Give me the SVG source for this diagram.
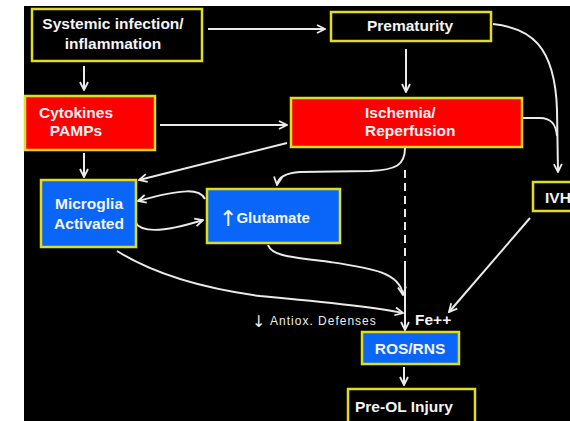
<svg xmlns="http://www.w3.org/2000/svg" width="570" height="421" viewBox="0 0 570 421">
  <style>
    .box { stroke: #E0DC1E; stroke-width: 2.5; }
    .dark { fill: #000000; }
    .red { fill: #FF0000; }
    .blue { fill: #0A66F8; }
    .lbl { font-family: "Liberation Sans", Arial, sans-serif; font-weight: bold; font-size: 15.5px; fill: #F4F4F4; }
    .mid { text-anchor: middle; }
    .small { font-family: "Liberation Sans", Arial, sans-serif; font-size: 12px; fill: #EDEDED; letter-spacing: 1px; }
    .link { fill: none; stroke: #EAEAEA; stroke-width: 2; }
    .dash { stroke-dasharray: 8 5; }
  </style>
  <defs>
    <marker id="arrow" viewBox="0 0 10 10" refX="9" refY="5" markerWidth="10" markerHeight="10" markerUnits="userSpaceOnUse" orient="auto">
      <path d="M1,1 L9,5 L1,9" fill="none" stroke="#EAEAEA" stroke-width="1.8"/>
    </marker>
  </defs>

  <!-- page background -->
  <rect x="0" y="0" width="570" height="421" fill="#FFFFFF"/>
  <rect x="24" y="6" width="546" height="415" fill="#000000"/>

  <!-- connectors -->
  <g id="connectors">
    <path class="link" d="M84,66 L84,90" marker-end="url(#arrow)"/>
    <path class="link" d="M208,29 L325,29" marker-end="url(#arrow)"/>
    <path class="link" d="M406,49 L406,92" marker-end="url(#arrow)"/>
    <path class="link" d="M160,125 L287,125" marker-end="url(#arrow)"/>
    <path class="link" d="M84,153 L84,177" marker-end="url(#arrow)"/>
    <path class="link" d="M287,143 L139,180" marker-end="url(#arrow)"/>
    <path class="link" d="M205,199 C200,189 185,188 138,201" marker-end="url(#arrow)"/>
    <path class="link" d="M135,222 C141,233 165,232 203,220" marker-end="url(#arrow)"/>
    <path class="link" d="M405,148 C405,165 396,170 370,171 L300,172 C285,173 278,177 277,185" marker-end="url(#arrow)"/>
    <path class="link dash" d="M405,170 L405,268"/>
    <path class="link" d="M405,268 L405,330" marker-end="url(#arrow)"/>
    <path class="link" d="M268,245 C272,256 290,257 330,262 C370,268 400,272 403,295" marker-end="url(#arrow)"/>
    <path class="link" d="M117,251 Q170,284 260,296 Q370,306 403,313" marker-end="url(#arrow)"/>
    <path class="link" d="M530,218 L449,312" marker-end="url(#arrow)"/>
    <path class="link" d="M493,24 C530,28 555,45 557,110 L558,172" marker-end="url(#arrow)"/>
    <path class="link" d="M522,118 L540,118 C552,118 556,125 557,136"/>
    <path class="link" d="M404,367 L404,385" marker-end="url(#arrow)"/>
  </g>

  <!-- nodes -->
  <g id="systemic">
    <rect class="box dark" x="32" y="9" width="170" height="52"/>
    <text class="lbl mid" x="113" y="29">Systemic infection/</text>
    <text class="lbl mid" x="113" y="49">inflammation</text>
  </g>
  <g id="prematurity">
    <rect class="box dark" x="331" y="12" width="160" height="29"/>
    <text class="lbl mid" x="410" y="31">Prematurity</text>
  </g>
  <g id="cytokines">
    <rect class="box red" x="25" y="96" width="130" height="54"/>
    <text class="lbl mid" x="76" y="118">Cytokines</text>
    <text class="lbl mid" x="76" y="136">PAMPs</text>
  </g>
  <g id="ischemia">
    <rect class="box red" x="291" y="98" width="231" height="49"/>
    <text class="lbl" x="365" y="118">Ischemia/</text>
    <text class="lbl" x="365" y="136">Reperfusion</text>
  </g>
  <g id="microglia">
    <rect class="box blue" x="41" y="180" width="95" height="67"/>
    <text class="lbl mid" x="89" y="209">Microglia</text>
    <text class="lbl mid" x="89" y="229">Activated</text>
  </g>
  <g id="glutamate">
    <rect class="box blue" x="207" y="189" width="133" height="54"/>
    <text class="lbl" x="219" y="226"><tspan font-family="DejaVu Sans, sans-serif" font-weight="normal" font-size="22px">↑</tspan><tspan font-size="15px" dx="-1" dy="-3">Glutamate</tspan></text>
  </g>
  <g id="ivh">
    <rect class="box dark" x="533" y="182" width="50" height="29"/>
    <text class="lbl" x="545" y="203">IVH</text>
  </g>
  <g id="antiox">
    <text class="small" x="252" y="327"><tspan font-family="DejaVu Sans, sans-serif" font-size="16px">↓</tspan><tspan dy="-2"> Antiox. Defenses</tspan></text>
  </g>
  <g id="fe">
    <text class="lbl" x="415" y="325" font-size="14.5px">Fe++</text>
  </g>
  <g id="ros">
    <rect class="box blue" x="362" y="332" width="97" height="32"/>
    <text class="lbl mid" x="410" y="354" font-size="13.5px" font-weight="normal">ROS/RNS</text>
  </g>
  <g id="preol">
    <rect class="box dark" x="348" y="389" width="127" height="40"/>
    <text class="lbl" x="355" y="412">Pre-OL Injury</text>
  </g>
</svg>
